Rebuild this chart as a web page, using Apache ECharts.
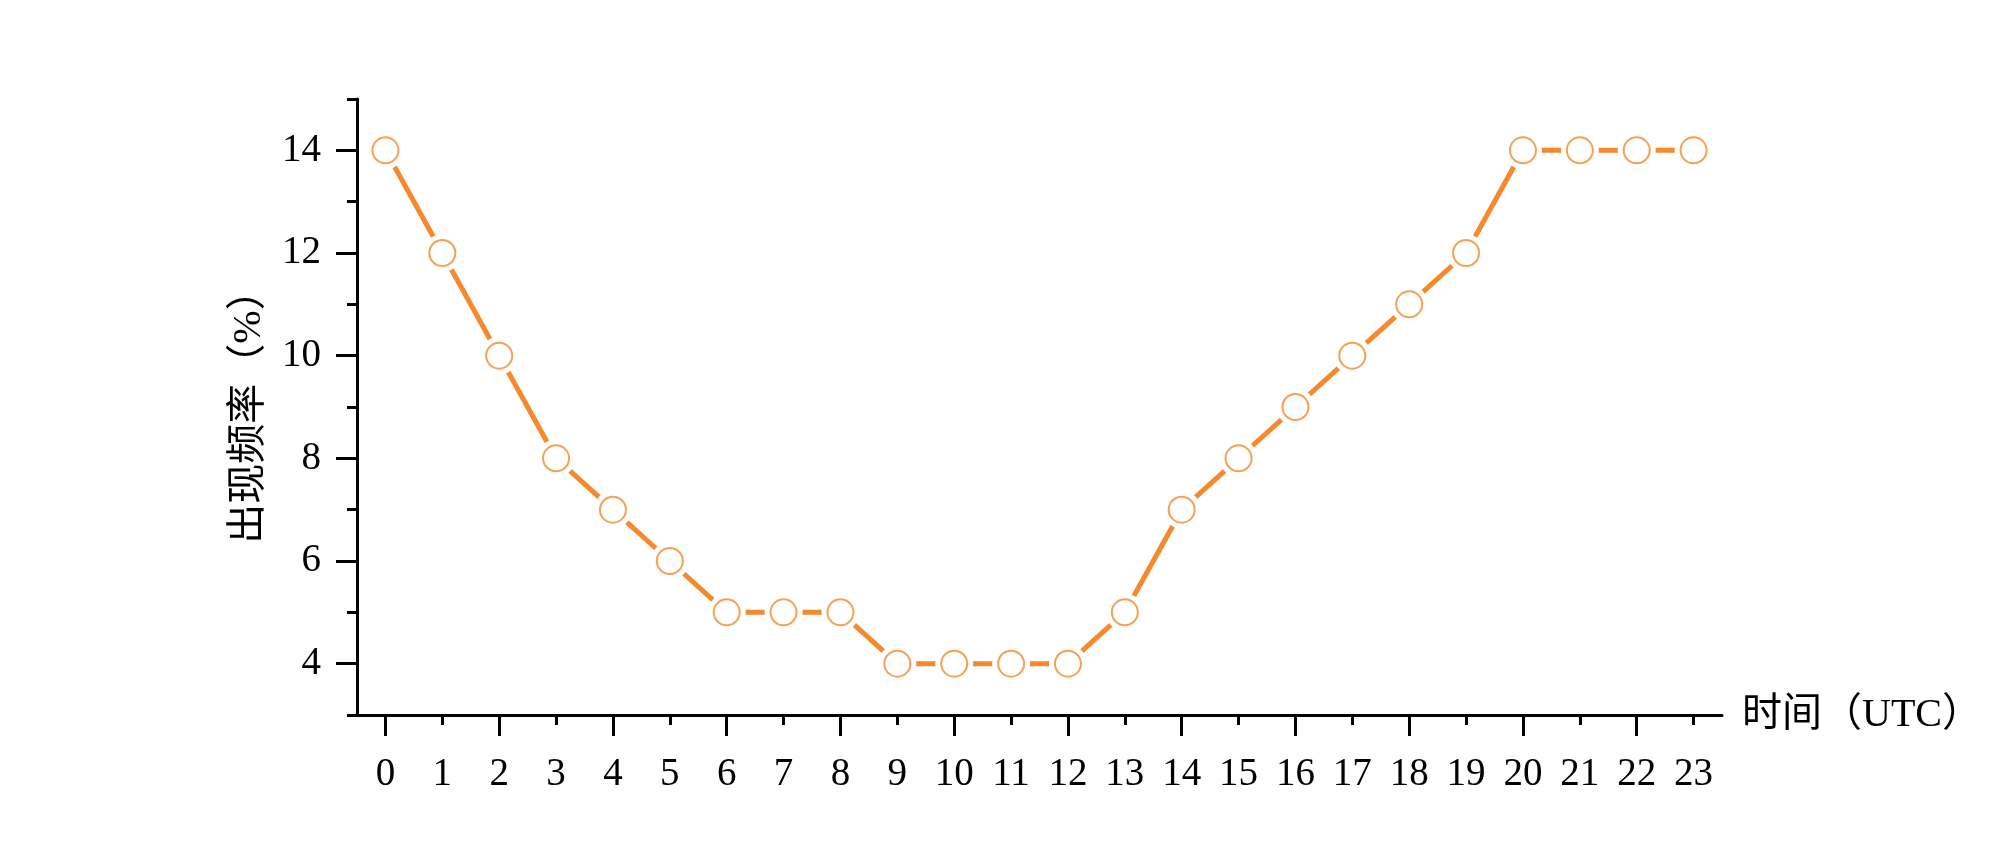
<!DOCTYPE html>
<html>
<head>
<meta charset="utf-8">
<script src="https://cdn.jsdelivr.net/npm/echarts@6/dist/echarts.min.js"></script>
<style>
  html, body { margin: 0; padding: 0; background: #fff; }
  #main { width: 2000px; height: 858px; }
</style>
</head>
<body>
<div id="main"></div>
<script>
// hours (UTC) and occurrence frequency (%)
const hours = ['0', '1', '2', '3', '4', '5', '6', '7', '8', '9', '10', '11',
  '12', '13', '14', '15', '16', '17', '18', '19', '20', '21', '22', '23'];
const freq = [14, 12, 10, 8, 7, 6, 5, 5, 5, 4, 4, 4, 4, 5, 7, 8, 9, 10, 11, 12, 14, 14, 14, 14];
// y labels sit on the long ticks
const yLabels = [4, 6, 8, 10, 12, 14];

const orange = '#F5892B';
const latin = "'Liberation Serif', 'Noto Sans CJK SC', serif";
const axisColor = '#000';
const gridRect = { left: 357, right: 278, top: 99, bottom: 143 };

const chart = echarts.init(document.getElementById('main'));

chart.setOption({
  backgroundColor: '#fff',
  animation: false,
  // second grid on the same spot only carries the long x ticks
  grid: [Object.assign({}, gridRect), Object.assign({}, gridRect)],
  xAxis: [
    {
      type: 'category',
      gridIndex: 0,
      data: hours,
      boundaryGap: true,
      name: '时间（UTC）',
      nameLocation: 'end',
      nameGap: 20,
      nameTextStyle: { fontFamily: latin, fontSize: 40, color: '#000' },
      axisLine: { lineStyle: { color: axisColor, width: 3 } },
      axisTick: {
        show: true,
        alignWithLabel: true,
        length: 10,
        interval: (i) => i % 2 === 1,
        lineStyle: { color: axisColor, width: 3 }
      },
      axisLabel: { interval: 0, margin: 40, fontFamily: latin, fontSize: 39, color: '#000' },
      splitLine: { show: false }
    },
    {
      type: 'category',
      gridIndex: 1,
      data: hours,
      boundaryGap: true,
      position: 'bottom',
      axisLine: { show: false },
      axisTick: {
        show: true,
        alignWithLabel: true,
        length: 21,
        interval: (i) => i % 2 === 0,
        lineStyle: { color: axisColor, width: 3 }
      },
      axisLabel: { show: false },
      splitLine: { show: false }
    }
  ],
  yAxis: [
    {
      // ticks every 2 from 3 (short, odd values); minor ticks fall on even values (long)
      type: 'value',
      gridIndex: 0,
      min: 3,
      max: 15,
      interval: 2,
      name: '出现频率（%）',
      nameLocation: 'middle',
      nameGap: 88,
      nameRotate: 90,
      nameTextStyle: { fontFamily: latin, fontSize: 40, color: '#000' },
      axisLine: { show: true, lineStyle: { color: axisColor, width: 3 } },
      axisTick: { show: true, length: 10, lineStyle: { color: axisColor, width: 3 } },
      minorTick: { show: true, splitNumber: 2, length: 21, lineStyle: { color: axisColor, width: 3 } },
      axisLabel: {
        margin: 36,
        fontFamily: latin,
        fontSize: 39,
        color: '#000',
        customValues: yLabels
      },
      splitLine: { show: false },
      minorSplitLine: { show: false }
    },
    {
      type: 'value',
      gridIndex: 1,
      min: 3,
      max: 15,
      show: false
    }
  ],
  series: [
    {
      // line with a white halo round each point (gap before the marker)
      type: 'line',
      data: freq,
      xAxisIndex: 0,
      yAxisIndex: 0,
      symbol: 'circle',
      symbolSize: 38,
      itemStyle: { color: '#fff', borderWidth: 0 },
      lineStyle: { color: orange, width: 5, cap: 'round' },
      emphasis: { disabled: true },
      z: 2
    },
    {
      type: 'scatter',
      data: freq,
      xAxisIndex: 0,
      yAxisIndex: 0,
      symbol: 'circle',
      symbolSize: 26,
      itemStyle: { color: '#fff', borderColor: orange, borderWidth: 2 },
      emphasis: { disabled: true },
      z: 3
    },
    {
      // empty series so the tick-only x axis is in use
      type: 'line',
      data: [],
      xAxisIndex: 1,
      yAxisIndex: 1,
      silent: true
    }
  ]
});
</script>
</body>
</html>
